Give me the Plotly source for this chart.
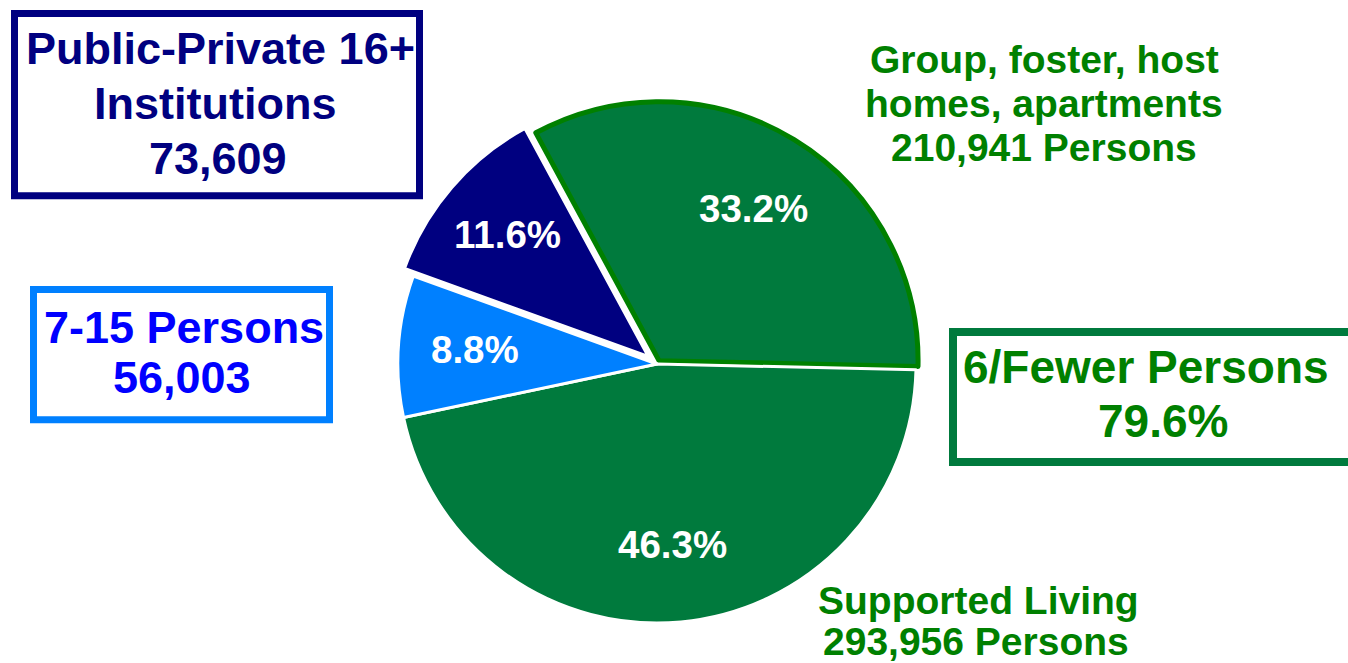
import plotly.graph_objects as go

# ---- data ----
categories = ["Group, foster, host homes, apartments", "Supported Living",
              "7-15 Persons", "Public-Private 16+ Institutions"]
persons = [210941, 293956, 56003, 73609]
slice_colors = ["#007A3D", "#007A3D", "#0080FF", "#000080"]
slice_line_colors = ["#008000", "white", "white", "white"]
slice_pull = [0.015, 0, 0, 0.045]

total = sum(persons)
pct = [v / total * 100 for v in persons]
small_share = (persons[0] + persons[1]) / total * 100

W, H = 1348, 663


def ax(x):
    return x / W


def ay(y):
    return 1 - y / H


FONT = "Arial, Liberation Sans, sans-serif"

fig = go.Figure()
fig.add_trace(go.Pie(
    labels=categories,
    values=persons,
    sort=False,
    direction="clockwise",
    rotation=-28.4,
    pull=slice_pull,
    marker=dict(colors=slice_colors,
                line=dict(color=slice_line_colors, width=[5, 3, 3, 3])),
    textinfo="none",
    hoverinfo="label+value+percent",
    showlegend=False,
    domain=dict(x=[ax(657 - 270.7), ax(657 + 270.7)],
                y=[ay(364 + 270.7), ay(364 - 270.7)]),
))

annotations = []


def add_text(text, cx, cy, size, color):
    annotations.append(dict(
        text=text, x=ax(cx), y=ay(cy), xref="paper", yref="paper",
        xanchor="center", yanchor="middle", showarrow=False,
        font=dict(family=FONT, size=size, color=color, weight="bold"),
    ))


# percentages inside slices
add_text(f"{pct[0]:.1f}%", 753, 208.8, 38.5, "white")
add_text(f"{pct[1]:.1f}%", 672.5, 544.8, 38.5, "white")
add_text(f"{pct[2]:.1f}%", 475, 349.8, 38.5, "white")
add_text(f"{pct[3]:.1f}%", 507, 234.8, 38.5, "white")

# Public-Private box text
add_text("Public-Private 16+", 220, 49, 45, "#000080")
add_text("Institutions", 215, 103, 45, "#000080")
add_text(f"{persons[3]:,}", 218, 158, 45, "#000080")

# 7-15 box text
add_text("7-15 Persons", 184, 327, 45, "#0000FF")
add_text(f"{persons[2]:,}", 182, 377, 45, "#0000FF")

# 6/Fewer box text
add_text("6/Fewer Persons", 1146, 367.4, 46, "#008000")
add_text(f"{small_share:.1f}%", 1163, 421.4, 46, "#008000")

# Group homes label
add_text("Group, foster, host", 1044, 59.8, 39, "#008000")
add_text("homes, apartments", 1043.5, 103.8, 39, "#008000")
add_text(f"{persons[0]:,} Persons", 1044, 147.8, 39, "#008000")

# Supported living label
add_text("Supported Living", 978, 600, 39, "#008000")
add_text(f"{persons[1]:,} Persons", 976, 641, 39, "#008000")

shapes = [
    dict(type="rect", xref="paper", yref="paper",
         x0=ax(14.5), x1=ax(419.5), y0=ay(13.5), y1=ay(195.8),
         line=dict(color="#000080", width=7), fillcolor="rgba(0,0,0,0)", layer="below"),
    dict(type="rect", xref="paper", yref="paper",
         x0=ax(33.5), x1=ax(329.5), y0=ay(289.5), y1=ay(419.8),
         line=dict(color="#0080FF", width=7), fillcolor="rgba(0,0,0,0)", layer="below"),
    dict(type="rect", xref="paper", yref="paper",
         x0=ax(953), x1=ax(1356), y0=ay(332), y1=ay(462),
         line=dict(color="#007A3D", width=8), fillcolor="rgba(0,0,0,0)", layer="below"),
]

fig.update_layout(
    width=W, height=H,
    margin=dict(l=0, r=0, t=0, b=0),
    paper_bgcolor="white",
    plot_bgcolor="white",
    annotations=annotations,
    shapes=shapes,
    showlegend=False,
)

fig.write_html("out.html", config={"displayModeBar": False},
               post_script="document.body.style.margin='0';"
                           "document.body.style.overflow='hidden';")
